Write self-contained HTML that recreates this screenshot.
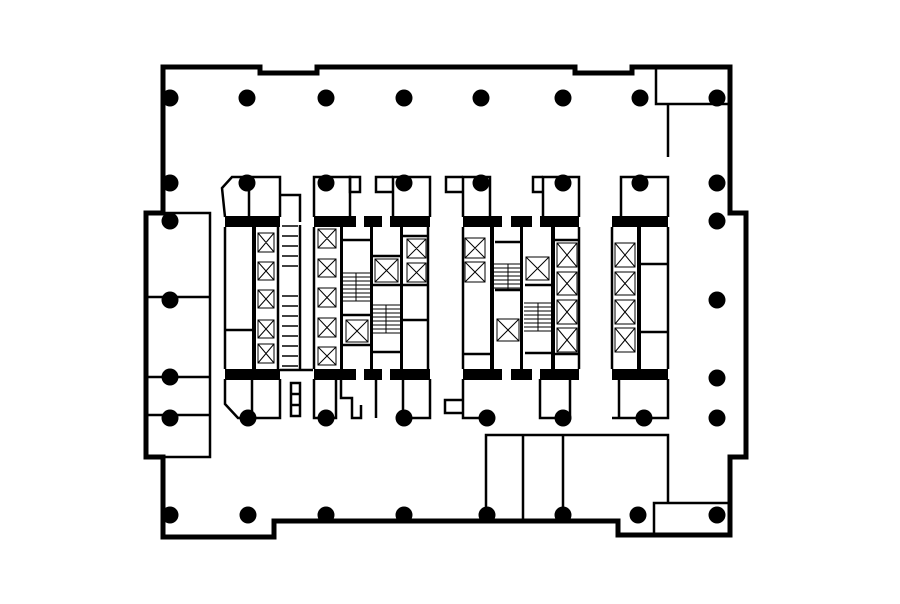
<!DOCTYPE html>
<html><head><meta charset="utf-8"><style>html,body{margin:0;padding:0;background:#fff}svg{display:block}</style></head>
<body>
<svg width="900" height="604" viewBox="0 0 900 604" xmlns="http://www.w3.org/2000/svg">
<rect width="900" height="604" fill="#fff"/>
<!-- outer wall -->
<polygon points="163,67 260,67 260,73 317,73 317,67 575,67 575,73 632,73 632,67 730,67 730,213 746,213 746,457 730,457 730,535 618,535 618,521 274,521 274,537 163,537 163,457 146,457 146,213 163,213" fill="none" stroke="#000" stroke-width="5"/>
<g fill="none" stroke="#000" stroke-width="2.5">
<!-- left box -->
<rect x="147" y="213" width="63" height="244"/>
<line x1="147" y1="297" x2="210" y2="297"/><line x1="147" y1="377" x2="210" y2="377"/><line x1="147" y1="415" x2="210" y2="415"/>
<!-- top right room -->
<polyline points="656,68 656,104 730,104"/><line x1="668" y1="104" x2="668" y2="157"/>
<!-- bottom right room -->
<polyline points="654,535 654,503 730,503"/>
<!-- bottom rooms -->
<polyline points="486,521 486,435 668,435 668,503"/>
<line x1="523" y1="435" x2="523" y2="521"/><line x1="563" y1="435" x2="563" y2="521"/>
<!-- core 1 upper/lower rooms -->
<polyline points="225,217 222,188 232,177 280,177 280,217"/><line x1="249" y1="177" x2="249" y2="217"/>
<polyline points="280,195 300,195 300,222"/>
<polyline points="225,379 225,404 238,418 280,418 280,379"/><line x1="252" y1="379" x2="252" y2="418"/>
<rect x="291" y="383" width="9" height="33"/><line x1="291" y1="394" x2="300" y2="394"/><line x1="291" y1="405" x2="300" y2="405"/>
<!-- core1 interior -->
<line x1="225" y1="227" x2="225" y2="369"/><line x1="225" y1="330" x2="253" y2="330"/>
<line x1="278" y1="227" x2="278" y2="369"/><line x1="300" y1="225" x2="300" y2="370"/><line x1="280" y1="370" x2="313" y2="370"/>
<!-- core 2 upper -->
<polyline points="314,217 314,177 350,177 350,217"/><rect x="350" y="177" width="10" height="15"/>
<polyline points="393,217 393,177 430,177 430,217"/><polyline points="393,192 376,192 376,177 393,177"/>
<polyline points="314,379 314,418 336,418 336,379"/><polyline points="341,379 341,398 352,398 352,418 361,418 361,405"/>
<line x1="376" y1="379" x2="376" y2="418"/><polyline points="403,379 403,418 430,418 430,379"/>
<line x1="314" y1="227" x2="314" y2="369"/><line x1="428" y1="227" x2="428" y2="369"/>
<line x1="343" y1="240" x2="370" y2="240"/><line x1="343" y1="315" x2="370" y2="315"/><line x1="343" y1="345" x2="370" y2="345"/>
<line x1="372" y1="256" x2="400" y2="256"/><line x1="372" y1="285" x2="400" y2="285"/><line x1="372" y1="352" x2="400" y2="352"/>
<line x1="403" y1="236" x2="428" y2="236"/><line x1="403" y1="285" x2="428" y2="285"/><line x1="403" y1="320" x2="428" y2="320"/>
<!-- core 3 -->
<polyline points="463,217 463,177 490,177 490,217"/><polyline points="463,192 446,192 446,177 463,177"/>
<polyline points="543,217 543,177 579,177 579,217"/><polyline points="543,192 533,192 533,177 543,177"/>
<polyline points="463,379 463,418 483,418"/><polyline points="463,400 445,400 445,413 463,413"/>
<polyline points="540,379 540,418 570,418 570,379"/>
<line x1="463" y1="227" x2="463" y2="369"/><line x1="579" y1="227" x2="579" y2="369"/>
<line x1="463" y1="354" x2="490" y2="354"/><line x1="495" y1="242" x2="520" y2="242"/><line x1="495" y1="290" x2="520" y2="290"/>
<line x1="525" y1="285" x2="552" y2="285"/><line x1="525" y1="353" x2="552" y2="353"/><line x1="555" y1="240" x2="579" y2="240"/><line x1="555" y1="354" x2="579" y2="354"/>
<!-- core 4 -->
<polyline points="621,217 621,177 668,177 668,217"/>
<polyline points="612,418 668,418 668,379"/><line x1="619" y1="379" x2="619" y2="418"/>
<line x1="612" y1="227" x2="612" y2="369"/><line x1="668" y1="227" x2="668" y2="369"/>
<line x1="640" y1="264" x2="668" y2="264"/><line x1="640" y1="332" x2="668" y2="332"/>
</g>
<g fill="#000">
<!-- core bands -->
<rect x="225" y="216" width="55" height="11"/><rect x="225" y="369" width="55" height="11"/>
<rect x="314" y="216" width="42" height="11"/><rect x="364" y="216" width="18" height="11"/><rect x="390" y="216" width="40" height="11"/>
<rect x="314" y="369" width="42" height="11"/><rect x="364" y="369" width="18" height="11"/><rect x="390" y="369" width="40" height="11"/>
<rect x="463" y="216" width="39" height="11"/><rect x="511" y="216" width="21" height="11"/><rect x="540" y="216" width="39" height="11"/>
<rect x="463" y="369" width="39" height="11"/><rect x="511" y="369" width="21" height="11"/><rect x="540" y="369" width="39" height="11"/>
<rect x="612" y="216" width="56" height="11"/><rect x="612" y="369" width="56" height="11"/>
<!-- thick walls -->
<rect x="252" y="226" width="4" height="144"/><rect x="340" y="226" width="3" height="144"/><rect x="370" y="226" width="3" height="144"/><rect x="400" y="226" width="3" height="144"/>
<rect x="490" y="226" width="4" height="144"/><rect x="520" y="226" width="3" height="144"/><rect x="551" y="226" width="4" height="144"/><rect x="637" y="226" width="4" height="144"/>
<!-- columns -->
<g id="cols">
<circle cx="170" cy="98" r="8.5"/><circle cx="247" cy="98" r="8.5"/><circle cx="326" cy="98" r="8.5"/><circle cx="404" cy="98" r="8.5"/><circle cx="481" cy="98" r="8.5"/><circle cx="563" cy="98" r="8.5"/><circle cx="640" cy="98" r="8.5"/><circle cx="717" cy="98" r="8.5"/>
<circle cx="170" cy="183" r="8.5"/><circle cx="247" cy="183" r="8.5"/><circle cx="326" cy="183" r="8.5"/><circle cx="404" cy="183" r="8.5"/><circle cx="481" cy="183" r="8.5"/><circle cx="563" cy="183" r="8.5"/><circle cx="640" cy="183" r="8.5"/><circle cx="717" cy="183" r="8.5"/>
<circle cx="170" cy="221" r="8.5"/><circle cx="717" cy="221" r="8.5"/><circle cx="170" cy="300" r="8.5"/><circle cx="717" cy="300" r="8.5"/><circle cx="170" cy="377" r="8.5"/><circle cx="717" cy="378" r="8.5"/>
<circle cx="170" cy="418" r="8.5"/><circle cx="248" cy="418" r="8.5"/><circle cx="326" cy="418" r="8.5"/><circle cx="404" cy="418" r="8.5"/><circle cx="487" cy="418" r="8.5"/><circle cx="563" cy="418" r="8.5"/><circle cx="644" cy="418" r="8.5"/><circle cx="717" cy="418" r="8.5"/>
<circle cx="170" cy="515" r="8.5"/><circle cx="248" cy="515" r="8.5"/><circle cx="326" cy="515" r="8.5"/><circle cx="404" cy="515" r="8.5"/><circle cx="487" cy="515" r="8.5"/><circle cx="563" cy="515" r="8.5"/><circle cx="638" cy="515" r="8.5"/><circle cx="717" cy="515" r="8.5"/>
</g>
</g>
<!-- elevators -->
<g fill="none" stroke="#000" stroke-width="1">
<g id="e">
<rect x="258" y="233" width="16" height="19"/><rect x="258" y="262" width="16" height="18"/><rect x="258" y="290" width="16" height="18"/><rect x="258" y="320" width="16" height="18"/><rect x="258" y="344" width="16" height="19"/>
<rect x="318" y="229" width="18" height="19"/><rect x="318" y="259" width="18" height="18"/><rect x="318" y="288" width="18" height="19"/><rect x="318" y="318" width="18" height="19"/><rect x="318" y="347" width="18" height="18"/>
<rect x="375" y="259" width="23" height="23"/><rect x="346" y="320" width="22" height="22"/><rect x="407" y="239" width="19" height="19"/><rect x="407" y="263" width="19" height="19"/>
<rect x="465" y="238" width="20" height="20"/><rect x="465" y="262" width="20" height="20"/><rect x="497" y="319" width="22" height="22"/><rect x="526" y="257" width="23" height="23"/>
<rect x="557" y="243" width="20" height="24"/><rect x="557" y="272" width="20" height="23"/><rect x="557" y="300" width="20" height="24"/><rect x="557" y="328" width="20" height="24"/>
<rect x="615" y="243" width="20" height="24"/><rect x="615" y="272" width="20" height="23"/><rect x="615" y="300" width="20" height="24"/><rect x="615" y="328" width="20" height="24"/>
</g>
<path d="M258,233l16,19M274,233l-16,19M258,262l16,18M274,262l-16,18M258,290l16,18M274,290l-16,18M258,320l16,18M274,320l-16,18M258,344l16,19M274,344l-16,19
M318,229l18,19M336,229l-18,19M318,259l18,18M336,259l-18,18M318,288l18,19M336,288l-18,19M318,318l18,19M336,318l-18,19M318,347l18,18M336,347l-18,18
M375,259l23,23M398,259l-23,23M346,320l22,22M368,320l-22,22M407,239l19,19M426,239l-19,19M407,263l19,19M426,263l-19,19
M465,238l20,20M485,238l-20,20M465,262l20,20M485,262l-20,20M497,319l22,22M519,319l-22,22M526,257l23,23M549,257l-23,23
M557,243l20,24M577,243l-20,24M557,272l20,23M577,272l-20,23M557,300l20,24M577,300l-20,24M557,328l20,24M577,328l-20,24
M615,243l20,24M635,243l-20,24M615,272l20,23M635,272l-20,23M615,300l20,24M635,300l-20,24M615,328l20,24M635,328l-20,24"/>
<!-- stairs -->
<path d="M343,273h27M343,277h27M343,281h27M343,285h27M343,289h27M343,293h27M343,297h27M343,301h27M356,273v28
M373,305h27M373,309h27M373,313h27M373,317h27M373,321h27M373,325h27M373,329h27M373,333h27M386,305v28
M494,264h26M494,268h26M494,272h26M494,276h26M494,280h26M494,284h26M494,288h26M508,264v26
M524,303h27M524,307h27M524,311h27M524,315h27M524,319h27M524,323h27M524,327h27M524,331h27M538,303v28"/>
<!-- toilets -->
<path d="M282,226h16M282,236h16M282,246h16M282,256h16M282,266h16M282,296h16M282,306h16M282,316h16M282,326h16M282,336h16M282,346h16M282,356h16M282,366h16" stroke-width="1.5"/>
</g>
</svg>
</body></html>
